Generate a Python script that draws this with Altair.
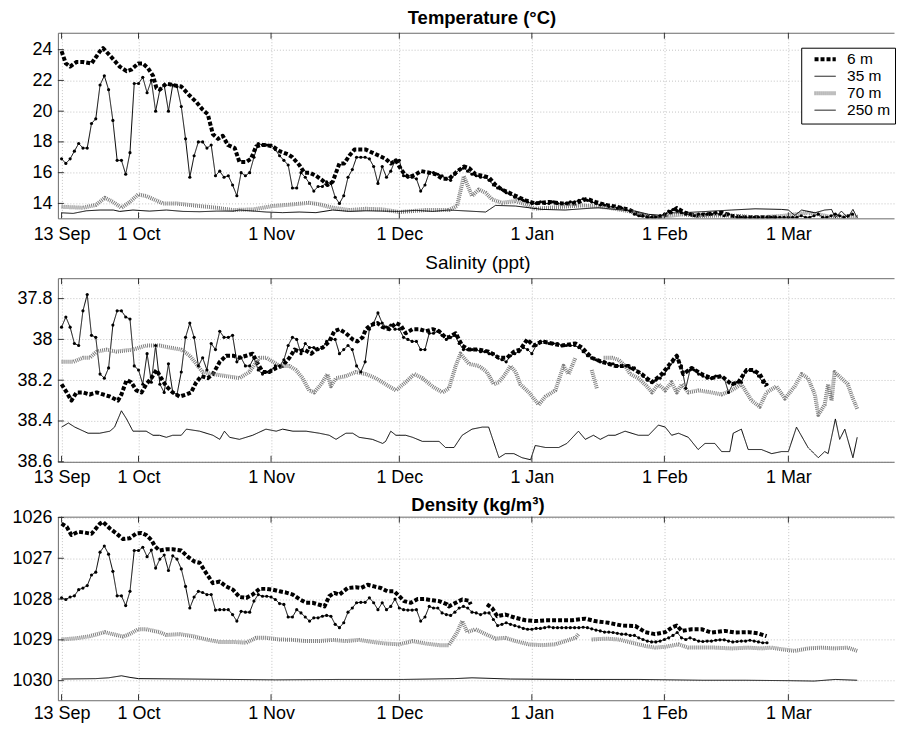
import altair as alt
import pandas as pd

BASE = pd.Timestamp("2003-09-13")
DEPTHS = ["6 m", "35 m", "70 m", "250 m"]
COLORS = ["#000000", "#000000", "#7e7e7e", "#000000"]
DASHES = [[4, 2], [1, 0], [1, 1], [1, 0]]
WIDTHS = [4, 1, 4, 1]

TICK_DATES = [(2003, 9, 13), (2003, 10, 1), (2003, 11, 1), (2003, 12, 1),
              (2004, 1, 1), (2004, 2, 1), (2004, 3, 1)]
TICK_LABELS = ["13 Sep", "1 Oct", "1 Nov", "1 Dec", "1 Jan", "1 Feb", "1 Mar"]

TEMP_TICKS = [14, 16, 18, 20, 22, 24]
SAL_TICKS = [37.8, 38.0, 38.2, 38.4, 38.6]
DEN_TICKS = [1026, 1027, 1028, 1029, 1030]

# ---------------- Temperature ----------------
# (day since 13 Sep, value)
T6 = [(0, 23.9), (1, 23.1), (2, 22.9), (3.5, 23.2), (5, 23.2), (7, 23.1), (9, 23.9), (9.7, 24.1),
      (11.7, 23.5), (13.6, 22.9), (15.2, 22.6), (16.3, 22.7), (17.9, 23.1), (19, 23.1), (20.2, 22.8),
      (21.4, 22.3), (22.2, 21.5), (23, 21.4), (24.5, 21.8), (26, 21.7), (28, 21.6), (30, 21.0),
      (31.5, 20.6), (33, 20.1), (34.2, 19.8), (35.4, 18.5), (36.6, 18.2), (37.7, 18.4), (38.9, 17.8),
      (40.5, 17.6), (41.6, 16.7), (43.2, 16.7), (44.3, 16.9), (45.5, 17.7), (46.7, 17.8), (47.8, 17.8),
      (49.4, 17.7), (51, 17.4), (52.9, 17.2), (54, 17.0), (55.6, 16.5), (56.8, 16.0), (58, 16.0),
      (59.5, 15.8), (61, 15.5), (62.2, 15.2), (63.4, 15.4), (65, 16.6), (66.1, 16.6), (67.3, 17.1),
      (68.5, 17.5), (70, 17.5), (71.2, 17.5), (72.7, 17.3), (74.3, 17.1), (75.8, 16.9), (77, 16.6),
      (78.2, 16.8), (79, 16.4), (80.2, 15.9), (81.3, 15.7), (82.9, 15.9), (84.1, 16.1), (86, 16.0),
      (87.5, 15.9), (89.1, 15.6), (90.6, 15.6), (92.2, 16.0), (94.1, 16.4), (95.3, 16.3), (96.8, 15.9),
      (98.4, 15.8), (99.9, 15.7), (101.5, 15.2), (103, 14.9), (104.6, 14.7), (106.9, 14.4), (108.5, 14.2),
      (110.8, 14.0), (114, 14.1), (117, 14.0), (120.2, 14.0), (122.9, 14.3), (124.8, 14.1), (127.2, 13.9),
      (129.5, 13.8), (132.6, 13.6), (134.9, 13.3), (137.3, 13.1), (139.6, 13.1), (141.9, 13.3),
      (143.9, 13.7), (145.8, 13.4), (148.2, 13.2), (151.3, 13.3), (154.4, 13.4), (156.7, 13.2),
      (159.1, 13.1), (162.2, 13.1), (165.3, 13.1), (167.2, 13.1)]

T35 = [16.9, 16.6, 16.9, 17.4, 17.9, 17.6, 17.6, 19.2, 19.5, 21.7,
       22.3, 21.4, 19.4, 16.8, 16.8, 15.9, 17.3, 21.8, 21.8, 22.2,
       21.2, 22.0, 20.0, 21.4, 21.7, 20.0, 21.7, 21.6, 20.3, 18.2,
       15.7, 17.1, 18.0, 18.0, 17.6, 17.8, 15.8, 16.1, 15.7, 15.8,
       15.2, 14.5, 16.0, 15.8, 16.0, 17.0, 17.9, 17.8, 17.8, 17.8,
       17.5, 17.1, 16.8, 16.5, 15.0, 15.0, 16.0, 15.7, 15.3, 14.8,
       15.1, 15.1, 15.4, 15.3, 14.4, 14.0, 14.5, 15.7, 16.2, 17.0,
       17.0, 17.0, 16.9, 16.4, 15.3, 16.4, 15.7, 16.1, 16.8, 16.8,
       15.8, 15.7, 15.7, 15.6, 14.8, 15.2, 16.0, 16.0, 15.9, 15.8,
       15.6, 15.5, 15.9, 16.2, 16.3, 16.1, 15.9, 15.8, 15.7, 15.7,
       15.5, 15.2, 15.0, 14.9, 14.7, 14.6, 14.4, 14.3, 14.2, 14.1,
       14.0, 14.0, 14.1, 14.0, 14.0, 14.1, 14.0, 14.0, 14.0, 14.1,
       14.1, 14.2, 14.3, 14.2, 14.1, 14.0, 13.9, 13.9, 13.8, 13.8,
       13.7, 13.7, 13.6, 13.5, 13.3, 13.2, 13.2, 13.1, 13.1, 13.1,
       13.2, 13.3, 13.5, 13.6, 13.5, 13.4, 13.3, 13.3, 13.2, 13.3,
       13.3, 13.3, 13.3, 13.4, 13.3, 13.2, 13.3, 13.2, 13.1, 13.1,
       13.1, 13.1, 13.1, 13.1, 13.1, 13.1, 13.1, 13.1, 13.1, 13.1,
       13.1, 13.1, 13.1, 13.2, 13.1, 13.1, 13.2, 13.3, 13.1, 13.1,
       13.2, 13.3, 13.2, 13.1, 13.2, 13.3]

T70 = [(0, 13.78), (5, 13.72), (8, 13.9), (10.1, 14.37), (12, 14.1), (14, 13.72), (16, 14.1),
       (17.9, 14.58), (19.8, 14.48), (23.7, 14.0), (26.7, 14.0), (32.3, 13.83), (36.2, 13.72),
       (40.1, 13.57), (44.8, 13.61), (49.4, 13.83), (54.1, 13.94), (57.9, 14.04), (60.3, 13.94),
       (63.4, 13.72), (67.3, 13.57), (71.2, 13.65), (75.1, 13.61), (79, 13.44), (85.2, 13.57),
       (90.6, 13.57), (92.5, 13.83), (94.1, 15.77), (96, 14.48), (97.6, 14.91), (99.2, 14.69),
       (100.7, 14.26), (103, 14.04), (106.2, 14.15), (108.5, 13.94), (110.8, 13.65), (114, 13.72),
       (117, 13.78), (121.7, 13.87), (124, 13.83), (127.9, 13.72), (132.6, 13.5), (135.7, 13.29),
       (138.8, 13.07), (141.9, 13.18), (145.1, 13.29), (149.7, 13.18), (154.4, 13.22), (159, 13.18),
       (162.2, 13.07), (165.3, 13.13), (168.4, 13.18), (174.6, 13.39), (177, 13.29), (180.8, 13.07),
       (183.9, 13.18), (186.3, 13.13)]

T250 = [(0, 13.39), (2.7, 13.35), (5.8, 13.52), (9, 13.57), (12.1, 13.57), (13.6, 13.48), (16.7, 13.57),
        (20.6, 13.5), (24.5, 13.57), (28.4, 13.48), (32.3, 13.46), (36.2, 13.5), (40.1, 13.5),
        (41.6, 13.57), (47.9, 13.44), (51.7, 13.4), (55.6, 13.44), (59.5, 13.4), (63.4, 13.57),
        (67.3, 13.48), (71.2, 13.52), (75.1, 13.5), (79, 13.48), (82.9, 13.55), (86.8, 13.48),
        (90.6, 13.57), (95.3, 13.5), (99.2, 13.44), (101.5, 13.87), (106.2, 13.83), (109.3, 13.72),
        (112.4, 13.61), (117.8, 13.57), (121.7, 13.65), (125.6, 13.72), (129.5, 13.61), (134.2, 13.5),
        (137.3, 13.29), (140.4, 13.22), (142, 13.39), (145.1, 13.39), (149.7, 13.46), (156.7, 13.57),
        (162.2, 13.65), (168.4, 13.61), (170, 13.57), (171.5, 13.22), (173.1, 13.57), (176.2, 13.39),
        (178.5, 13.57), (180.1, 13.61), (181, 13.07), (182.4, 13.5), (183.9, 13.07), (185.1, 13.61),
        (186.1, 13.07)]

# ---------------- Salinity ----------------
S6 = [(0, 38.22), (1.2, 38.26), (2.3, 38.30), (3.5, 38.26), (5, 38.26), (6.6, 38.27), (8.2, 38.26),
      (9.7, 38.27), (11.3, 38.28), (13.2, 38.30), (14, 38.27), (15.2, 38.20), (16.3, 38.21), (17.5, 38.25),
      (18.7, 38.26), (19.8, 38.22), (21, 38.19), (22.2, 38.15), (23.3, 38.19), (24.5, 38.23), (26, 38.26),
      (27.6, 38.28), (29.2, 38.27), (30.3, 38.26), (31.5, 38.21), (32.7, 38.18), (34.2, 38.19),
      (35.4, 38.17), (37, 38.11), (38.5, 38.08), (40.1, 38.08), (41.6, 38.09), (43.2, 38.08),
      (44.7, 38.07), (45.9, 38.12), (47.1, 38.16), (48.6, 38.16), (50.2, 38.14), (51.7, 38.13),
      (53.3, 38.09), (54.5, 38.05), (55.6, 38.06), (56.8, 38.05), (58.4, 38.07), (59.5, 38.05),
      (61.1, 38.04), (62.6, 38.01), (63.8, 37.96), (65, 37.95), (66.5, 37.97), (68.1, 38.00),
      (69.2, 38.01), (70.4, 37.99), (71.2, 37.95), (72.3, 37.93), (73.9, 37.92), (75.1, 37.94),
      (76.6, 37.95), (78.2, 37.92), (79.3, 37.93), (80.5, 37.97), (82.1, 37.95), (83.7, 37.95),
      (85.2, 37.96), (86.8, 37.95), (88.3, 37.96), (89.8, 37.99), (90.6, 37.99), (92.2, 37.97),
      (93.7, 38.03), (95.3, 38.05), (97.6, 38.05), (99.9, 38.06), (102.3, 38.09), (104.2, 38.09),
      (105.8, 38.06), (107.3, 38.05), (108.9, 38.00), (110.4, 38.03), (112.4, 38.01), (114.7, 38.02),
      (117, 38.03), (120.2, 38.02), (121.7, 38.04), (124, 38.09), (126.4, 38.11), (129.5, 38.13),
      (132.6, 38.13), (135.7, 38.17), (138.1, 38.21), (140.4, 38.17), (142.3, 38.12), (143.9, 38.08),
      (145.4, 38.17), (147.4, 38.14), (149.7, 38.17), (152, 38.19), (154.4, 38.18), (156.7, 38.22),
      (158.3, 38.21), (160.2, 38.15), (161.8, 38.15), (163.3, 38.17), (164.9, 38.23)]

S35 = [37.94, 37.89, 37.94, 38.02, 38.03, 37.86, 37.78, 37.98, 37.99, 38.17,
       38.19, 38.14, 37.93, 37.86, 37.86, 37.89, 37.90, 38.13, 38.15, 38.22,
       38.07, 38.21, 38.03, 38.22, 38.26, 38.12, 38.26, 38.27, 38.16, 37.99,
       37.92, 37.99, 38.13, 38.09, 38.15, 38.02, 38.05, 37.96, 37.99, 37.99,
       37.98, 38.11, 38.09, 38.13, 38.13, 38.09, 38.15, 38.17, 38.16, 38.15,
       38.13, 38.13, 38.10, 38.03, 37.99, 38.00, 38.07, 38.02, 38.04, 38.04,
       38.05, 38.04, 38.01, 38.00, 38.00, 38.07, 38.05, 38.03, 38.05, 38.13,
       38.16, 38.11, 37.95, 37.92, 37.87, 37.92, 37.94, 37.93, 37.95, 37.95,
       37.99, 38.00, 38.01, 38.01, 38.05, 38.05, 37.97, 37.97, 37.96, 37.98,
       38.00, 37.99, 37.98, 38.02, 38.05, 38.05, 38.05, 38.05, 38.06, 38.06,
       38.07, 38.07, 38.09, 38.10, 38.11, 38.08, 38.07, 38.06, 38.04, 38.05,
       38.07, 38.03, 38.01, 38.01, 38.02, 38.02, 38.02, 38.03, 38.03, 38.03,
       38.03, 38.04, 38.06, 38.08, 38.09, 38.10, 38.11, 38.11, 38.12, 38.12,
       38.13, 38.13, 38.13, 38.14, 38.14, 38.16, 38.18, 38.20, 38.21, 38.20,
       38.19, 38.17, 38.14, 38.11, 38.09, 38.13, 38.24, 38.15, 38.15, 38.17,
       38.18, 38.19, 38.19, 38.18, 38.18, 38.19, 38.26, 38.22, 38.21, 38.21,
       38.16, 38.15, 38.16, 38.18, 38.21, 38.22]

S70_A = [(0, 38.11), (2.7, 38.11), (5, 38.09), (6.6, 38.09), (8.2, 38.06), (10.5, 38.05), (12.8, 38.06),
         (16.7, 38.05), (19.8, 38.03), (22.9, 38.03), (25.3, 38.04), (28, 38.05), (30, 38.08),
         (31.5, 38.12), (33, 38.16), (35.4, 38.17), (38.5, 38.18), (41.6, 38.19), (43.9, 38.16),
         (46.3, 38.09), (47.9, 38.09), (51, 38.13), (53.3, 38.13), (54.8, 38.15), (56.4, 38.19),
         (57.9, 38.25), (59.1, 38.26), (60.7, 38.22), (62.2, 38.17), (63, 38.23), (64.2, 38.19),
         (66.5, 38.18), (68.8, 38.16), (71.2, 38.17), (73.5, 38.19), (75.8, 38.22), (78.2, 38.25),
         (80.5, 38.21), (82.5, 38.17), (84.4, 38.19), (86.7, 38.23), (89.1, 38.26), (90.6, 38.24),
         (92.2, 38.13), (93.3, 38.07), (95.3, 38.12), (97.6, 38.13), (99.5, 38.16), (101.1, 38.22),
         (102.3, 38.21), (103.8, 38.17), (105, 38.13), (106.2, 38.16), (107.3, 38.22), (109.3, 38.26),
         (111.6, 38.32), (113.2, 38.28), (115.5, 38.25), (117.4, 38.13), (118.6, 38.17), (120.2, 38.09)]
S70_B = [(124, 38.15), (125.2, 38.24)]
S70_C = [(126.8, 38.09), (128.7, 38.09), (130.3, 38.10), (131.8, 38.13), (133, 38.17), (134.9, 38.19),
         (136.9, 38.23), (138.1, 38.26), (139.6, 38.22), (141.2, 38.25), (142.7, 38.21), (143.9, 38.26),
         (145.1, 38.22), (146.6, 38.26), (149, 38.25), (152, 38.26), (154.4, 38.27), (156.7, 38.25),
         (159, 38.22), (161.4, 38.30), (163.3, 38.33), (164.9, 38.26), (167.2, 38.23), (169.2, 38.29),
         (171.5, 38.23), (173.1, 38.17), (174.6, 38.19), (176.2, 38.27), (177, 38.37), (178.5, 38.32),
         (179.3, 38.22), (180.1, 38.30), (180.8, 38.16), (182.4, 38.19), (183.9, 38.22), (185.1, 38.29),
         (186.1, 38.34)]

S250 = [(0, 38.43), (1.6, 38.41), (3.1, 38.43), (6.2, 38.46), (8.9, 38.46), (11.3, 38.45), (12.4, 38.43),
        (14, 38.35), (15.2, 38.39), (16.7, 38.45), (17.9, 38.45), (19.8, 38.45), (21.4, 38.47),
        (22.9, 38.47), (24.5, 38.48), (26, 38.47), (28, 38.47), (29.2, 38.44), (32.3, 38.45),
        (35.4, 38.47), (37, 38.49), (38.1, 38.45), (39.3, 38.48), (41.6, 38.49), (44.7, 38.47),
        (47.8, 38.44), (50.2, 38.45), (51.7, 38.44), (54.1, 38.45), (57.2, 38.45), (60.3, 38.46),
        (62.6, 38.47), (64.2, 38.49), (66.5, 38.46), (68.1, 38.46), (69.6, 38.48), (72.7, 38.49),
        (75.1, 38.51), (75.8, 38.50), (77, 38.45), (78.2, 38.47), (80.5, 38.47), (82.1, 38.48),
        (84.4, 38.50), (86.8, 38.50), (88.3, 38.50), (89.8, 38.53), (90.6, 38.53), (91.8, 38.53),
        (93.7, 38.47), (96, 38.44), (98.4, 38.43), (99.9, 38.43), (100.7, 38.48), (102.3, 38.58),
        (103.8, 38.56), (105.8, 38.56), (107.7, 38.58), (109.7, 38.59), (110.8, 38.52), (113.2, 38.53),
        (116.3, 38.53), (118.2, 38.51), (120.9, 38.45), (122.5, 38.49), (124.4, 38.47), (126, 38.49),
        (127.9, 38.47), (129.5, 38.47), (131.8, 38.45), (134.9, 38.47), (137.3, 38.47), (139.6, 38.42),
        (141.2, 38.43), (142.7, 38.47), (144.3, 38.46), (146.6, 38.48), (148.9, 38.54), (150.5, 38.51),
        (152.8, 38.51), (154.4, 38.55), (156.3, 38.55), (157.1, 38.46), (159, 38.44), (160.6, 38.54),
        (163.7, 38.54), (166.1, 38.56), (168.4, 38.55), (170, 38.55), (171.9, 38.43), (174.6, 38.53),
        (177, 38.58), (178.5, 38.55), (179.3, 38.56), (181, 38.39), (182, 38.49), (183.2, 38.44),
        (185.1, 38.58), (186.1, 38.48)]

# ---------------- Density ----------------
D6_A = [(0, 1026.15), (1.2, 1026.23), (2.3, 1026.43), (3.9, 1026.35), (5.4, 1026.37), (7, 1026.40),
        (9, 1026.15), (9.7, 1026.11), (11.3, 1026.27), (12.8, 1026.39), (14.4, 1026.53), (15.9, 1026.51),
        (17.5, 1026.39), (18.7, 1026.38), (19.8, 1026.43), (21, 1026.55), (21.8, 1026.70), (22.9, 1026.81),
        (24.5, 1026.78), (26, 1026.78), (28, 1026.81), (29.5, 1026.96), (31.1, 1027.08), (32.3, 1027.11),
        (33.8, 1027.36), (35.4, 1027.61), (37, 1027.57), (38.5, 1027.69), (40.1, 1027.77), (41.6, 1027.95),
        (43.2, 1027.97), (44.7, 1027.89), (46.3, 1027.75), (47.9, 1027.75), (49.4, 1027.77), (51, 1027.81),
        (52.5, 1027.84), (54.1, 1027.89), (55.6, 1028.00), (57.2, 1028.09), (58.7, 1028.09),
        (60.3, 1028.14), (61.5, 1028.18), (62.6, 1027.93), (63.8, 1027.85), (65, 1027.89), (66.9, 1027.73),
        (68.8, 1027.71), (70, 1027.73), (71.6, 1027.65), (73.1, 1027.69), (74.7, 1027.73), (76.2, 1027.81),
        (77.8, 1027.81), (79, 1027.93), (80.1, 1028.05), (81.7, 1028.09), (83.3, 1028.00), (84.8, 1028.00),
        (86.8, 1028.03), (88.3, 1028.05), (90.2, 1028.13), (90.6, 1028.18), (92.2, 1028.09),
        (93.7, 1028.01), (95.3, 1028.04), (95.7, 1028.13)]
D6_B = [(99.5, 1028.13), (100.7, 1028.22), (101.9, 1028.42), (103.8, 1028.38), (106.2, 1028.46),
        (108.5, 1028.52), (110.8, 1028.54), (113.2, 1028.52), (116.3, 1028.52), (119.4, 1028.52),
        (122.5, 1028.48), (124.8, 1028.54), (127.9, 1028.58), (131.1, 1028.65), (134.2, 1028.66),
        (136.5, 1028.81), (138.8, 1028.86), (141.2, 1028.81), (142.7, 1028.70), (143.9, 1028.65),
        (145.1, 1028.78), (147.4, 1028.74), (149.7, 1028.74), (152, 1028.82), (155.2, 1028.78),
        (157.5, 1028.82), (160.6, 1028.81), (162.9, 1028.84), (164.9, 1028.91)]

D35 = [1027.97, 1028.01, 1027.95, 1027.92, 1027.77, 1027.73, 1027.67, 1027.41, 1027.34, 1026.85,
       1026.70, 1026.90, 1027.32, 1027.92, 1027.92, 1028.16, 1027.81, 1026.81, 1026.81, 1026.73,
       1026.96, 1026.80, 1027.24, 1027.02, 1026.92, 1027.30, 1026.94, 1027.02, 1027.26, 1027.69,
       1028.22, 1027.95, 1027.81, 1027.84, 1027.89, 1027.89, 1028.27, 1028.26, 1028.26, 1028.26,
       1028.38, 1028.54, 1028.30, 1028.32, 1028.32, 1028.05, 1027.89, 1027.93, 1027.93, 1027.95,
       1028.01, 1028.11, 1028.13, 1028.44, 1028.44, 1028.26, 1028.34, 1028.44, 1028.54, 1028.46,
       1028.46, 1028.42, 1028.40, 1028.42, 1028.62, 1028.70, 1028.58, 1028.32, 1028.22, 1028.09,
       1028.08, 1028.08, 1027.97, 1028.09, 1028.26, 1028.09, 1028.26, 1028.18, 1028.00, 1028.22,
       1028.26, 1028.27, 1028.27, 1028.26, 1028.54, 1028.44, 1028.18, 1028.22, 1028.22, 1028.34,
       1028.38, 1028.40, 1028.32, 1028.22, 1028.18, 1028.22, 1028.32, 1028.34, 1028.38, 1028.34,
       1028.34, 1028.50, 1028.65, 1028.62, 1028.58, 1028.62, 1028.65, 1028.68, 1028.72, 1028.74,
       1028.74, 1028.72, 1028.72, 1028.70, 1028.68, 1028.70, 1028.70, 1028.70, 1028.70, 1028.70,
       1028.70, 1028.70, 1028.69, 1028.70, 1028.73, 1028.76, 1028.78, 1028.81, 1028.81, 1028.82,
       1028.84, 1028.86, 1028.86, 1028.89, 1028.89, 1028.95, 1028.99, 1029.03, 1029.05, 1029.05,
       1029.03, 1028.99, 1028.95, 1028.89, 1028.82, 1028.95, 1028.99, 1028.95, 1028.99, 1029.03,
       1029.04, 1029.03, 1029.03, 1029.01, 1029.00, 1029.00, 1029.03, 1029.05, 1029.04, 1029.03,
       1029.03, 1029.01, 1029.03, 1029.05, 1029.07, 1029.07]

D70_A = [(0, 1028.99), (3.5, 1028.96), (6.6, 1028.91), (10.1, 1028.81), (12, 1028.86), (14.4, 1028.92),
         (15.9, 1028.86), (17.9, 1028.74), (19.8, 1028.74), (22.9, 1028.81), (24.5, 1028.88),
         (27.6, 1028.86), (30.7, 1028.91), (33.8, 1028.99), (36.9, 1029.05), (40.1, 1029.05),
         (43.2, 1029.07), (45.5, 1028.95), (47.9, 1028.95), (51, 1028.99), (54.1, 1029.00), (57.2, 1029.03),
         (60.3, 1029.03), (63.4, 1029.00), (66.5, 1029.03), (69.6, 1029.00), (72.7, 1029.05),
         (75.8, 1029.09), (79, 1029.11), (82.1, 1029.03), (85.2, 1029.09), (88.3, 1029.13), (90.6, 1029.13),
         (92.5, 1028.82), (93.7, 1028.54), (94.9, 1028.81), (96.8, 1028.74), (99.2, 1028.86),
         (101.5, 1028.97), (103.8, 1028.95), (106.2, 1029.03), (109.3, 1029.11), (112.4, 1029.13),
         (115.5, 1029.11), (117.8, 1029.03), (120.2, 1028.95), (120.9, 1028.86)]
D70_B = [(124, 1028.99), (127.2, 1028.97), (130.3, 1028.99), (133.4, 1029.07), (136.5, 1029.15),
         (138.8, 1029.19), (141.2, 1029.17), (144.3, 1029.11), (146.6, 1029.19), (149.7, 1029.19),
         (152.8, 1029.19), (156.7, 1029.21), (160.6, 1029.19), (163.7, 1029.21), (166, 1029.19),
         (168.4, 1029.23), (171.5, 1029.27), (174.6, 1029.21), (177.7, 1029.19), (180.8, 1029.21),
         (183.9, 1029.19), (186.1, 1029.27)]

D250 = [(0, 1029.96), (8, 1029.95), (11, 1029.93), (14, 1029.88), (16, 1029.92), (18, 1029.95),
        (30, 1029.96), (50, 1029.98), (65, 1029.97), (80, 1029.97), (92, 1029.95), (96, 1029.93),
        (105, 1029.96), (120, 1029.97), (135, 1029.97), (150, 1029.99), (160, 1029.99), (170, 1030.0),
        (176, 1030.01), (181, 1029.97), (186.1, 1029.99)]


# ---------------- helpers ----------------
def seg_rows(pairs, depth, seg):
    return [{"date": BASE + pd.Timedelta(days=d), "val": v, "depth": depth,
             "seg": depth + "-" + str(seg)} for d, v in pairs]


def daily_rows(vals, depth):
    return [{"date": BASE + pd.Timedelta(days=i), "val": v, "depth": depth,
             "seg": depth + "-0"} for i, v in enumerate(vals)]


def frame(*parts):
    rows = []
    for p in parts:
        rows.extend(p)
    return pd.DataFrame(rows)


temp_df = frame(seg_rows(T6, "6 m", 0), daily_rows(T35, "35 m"),
                seg_rows(T70, "70 m", 0), seg_rows(T250, "250 m", 0))
sal_df = frame(seg_rows(S6, "6 m", 0), daily_rows(S35, "35 m"),
               seg_rows(S70_A, "70 m", 0), seg_rows(S70_B, "70 m", 1), seg_rows(S70_C, "70 m", 2),
               seg_rows(S250, "250 m", 0))
den_df = frame(seg_rows(D6_A, "6 m", 0), seg_rows(D6_B, "6 m", 1), daily_rows(D35, "35 m"),
               seg_rows(D70_A, "70 m", 0), seg_rows(D70_B, "70 m", 1), seg_rows(D250, "250 m", 0))

W = 838
X_DOMAIN = [alt.DateTime(year=2003, month=9, date=12, hours=3, minutes=20),
            alt.DateTime(year=2004, month=3, date=25, hours=17)]
X_VALUES = [alt.DateTime(year=y, month=m, date=d) for y, m, d in TICK_DATES]
tick_df = pd.DataFrame({"date": [pd.Timestamp(year=y, month=m, day=d) for y, m, d in TICK_DATES]})

FONT = "Liberation Sans"
FRAME_COLOR = "#6a6a6a"
TICK_COLOR = "#333333"


def panel(df, title, ydomain, yticks, yfmt, height, reverse, legend_on, xext, xpad):
    xs = alt.Scale(domain=X_DOMAIN)
    ys = alt.Scale(domain=ydomain, reverse=reverse, zero=False, nice=False)
    if legend_on:
        lg = alt.Legend(title=None, orient="none", legendX=745, legendY=15)
    else:
        lg = None
    yaxis = alt.Axis(values=yticks, format=yfmt, grid=True, title=None)
    lines = alt.Chart(df).mark_line(clip=True, strokeCap="butt", strokeJoin="round").encode(
        x=alt.X("date:T", scale=xs,
                axis=alt.Axis(values=X_VALUES, format="%-d %b", grid=True, title=None,
                              labelFlush=False, labelOverlap=False, labelPadding=xpad,
                              minExtent=xext, maxExtent=xext)),
        y=alt.Y("val:Q", scale=ys, axis=yaxis),
        color=alt.Color("depth:N", scale=alt.Scale(domain=DEPTHS, range=COLORS), legend=lg),
        strokeDash=alt.StrokeDash("depth:N", scale=alt.Scale(domain=DEPTHS, range=DASHES), legend=lg),
        strokeWidth=alt.StrokeWidth("depth:N",
                                    scale=alt.Scale(type="ordinal", domain=DEPTHS, range=WIDTHS),
                                    legend=lg),
        detail="seg:N",
    )
    pts = alt.Chart(df[df["depth"] == "35 m"]).mark_circle(size=10, color="black", opacity=1, clip=True).encode(
        x=alt.X("date:T", scale=xs, axis=None),
        y=alt.Y("val:Q", scale=ys, axis=yaxis),
    )
    bottom_ticks = alt.Chart(tick_df).mark_rule(color=TICK_COLOR).encode(
        x=alt.X("date:T", scale=xs, axis=None),
        y=alt.value(height), y2=alt.value(height - 6),
    )
    top_ticks = alt.Chart(tick_df).mark_rule(color=TICK_COLOR).encode(
        x=alt.X("date:T", scale=xs,
                axis=alt.Axis(orient="top", labels=False, ticks=False, grid=False, domain=True,
                              title=None, minExtent=0, maxExtent=0)),
        y=alt.value(0), y2=alt.value(6),
    )
    ytick_df = pd.DataFrame({"val": yticks})
    left_ticks = alt.Chart(ytick_df).mark_rule(color=TICK_COLOR).encode(
        y=alt.Y("val:Q", scale=ys, axis=yaxis),
        x=alt.value(0), x2=alt.value(6),
    )
    return alt.layer(lines, pts, bottom_ticks, top_ticks, left_ticks).resolve_axis(
        x="independent").properties(width=W, height=height, title=title)


t1 = alt.TitleParams("Temperature (°C)", font=FONT, fontSize=18.5, fontWeight="bold",
                     color="black", offset=5, anchor="middle", dx=6)
t2 = alt.TitleParams("Salinity (ppt)", font=FONT, fontSize=19, fontWeight="normal",
                     color="black", offset=5, anchor="middle", dx=2)
t3 = alt.TitleParams("Density (kg/m³)", font=FONT, fontSize=18.5, fontWeight="bold",
                     color="black", offset=-6.2, anchor="middle", dx=2)

p1 = panel(temp_df, t1, [13.03, 25.1], TEMP_TICKS, "d", 186, False, True, 31, 7)
p2 = panel(sal_df, t2, [37.70, 38.6], SAL_TICKS, "~g", 184, True, False, 30, 7)
p3 = panel(den_df, t3, [1025.98, 1030.48], DEN_TICKS, "d", 184, True, False, 23.5, 4)

chart = alt.vconcat(p1, p2, p3, spacing=4).resolve_scale(
    color="independent", strokeDash="independent", strokeWidth="independent"
).resolve_legend(
    color="independent", strokeDash="independent", strokeWidth="independent"
).properties(
    padding={"left": 0, "top": 0, "right": 0, "bottom": 0}
).configure_view(stroke=None).configure_axis(
    labelFont=FONT, labelFontSize=18, labelColor="black", domainColor=FRAME_COLOR,
    gridColor="#c4c4c4", gridDash=[1, 2], gridWidth=1, ticks=False, tickSize=0,
).configure_axisY(
    labelPadding=6, minExtent=50, maxExtent=50
).configure_legend(
    strokeColor="black", fillColor="white", padding=4, symbolType="M-1.4,0L1.4,0", symbolSize=231,
    labelFont=FONT, labelFontSize=15.5, labelColor="black", symbolOffset=10, labelOffset=12,
    rowPadding=0, clipHeight=15.2, cornerRadius=0
)

chart.save("out.html", embed_options={"renderer": "svg", "actions": False})
